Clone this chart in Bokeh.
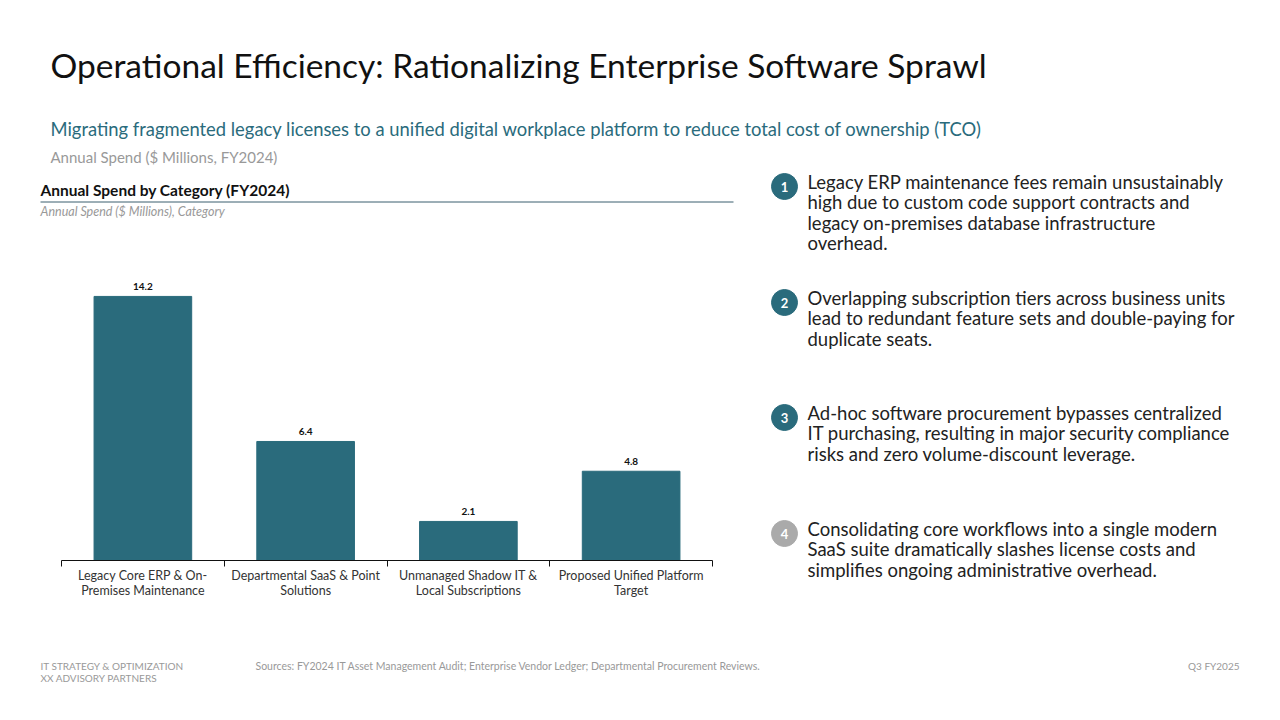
from bokeh.plotting import figure
from bokeh.layouts import column, row
from bokeh.models import Range1d, FixedTicker, ColumnDataSource
from bokeh.core.properties import value
from bokeh.embed import file_html
from bokeh.resources import INLINE

# ---- data -------------------------------------------------------------
categories = [
    "Legacy Core ERP & On-\nPremises Maintenance",
    "Departmental SaaS & Point\nSolutions",
    "Unmanaged Shadow IT &\nLocal Subscriptions",
    "Proposed Unified Platform\nTarget",
]
spend = [14.2, 6.4, 2.1, 4.8]

bullet_numbers = ["1", "2", "3", "4"]
bullet_lines = [
    ["Legacy ERP maintenance fees remain unsustainably",
     "high due to custom code support contracts and",
     "legacy on-premises database infrastructure",
     "overhead."],
    ["Overlapping subscription tiers across business units",
     "lead to redundant feature sets and double-paying for",
     "duplicate seats."],
    ["Ad-hoc software procurement bypasses centralized",
     "IT purchasing, resulting in major security compliance",
     "risks and zero volume-discount leverage."],
    ["Consolidating core workflows into a single modern",
     "SaaS suite dramatically slashes license costs and",
     "simplifies ongoing administrative overhead."],
]
bullet_colors = ["#2a6b7c", "#2a6b7c", "#2a6b7c", "#aaaaaa"]

TEAL = "#2a6b7c"
FONT = value("Lato")


def canvas(w, h, x0, y0):
    """Blank figure whose coordinates are page pixels (y grows downward)."""
    f = figure(width=w, height=h, x_range=Range1d(x0, x0 + w),
               y_range=Range1d(y0 + h, y0), output_backend="svg",
               toolbar_location=None, x_axis_type=None, y_axis_type=None,
               min_border=0, outline_line_color=None)
    f.grid.visible = False
    f.frame_align = False
    return f


def txt(f, x, y, s, size, color, style="normal", align="left", baseline="middle"):
    f.text(x=[x], y=[y], text=[s], text_font=FONT, text_font_size=f"{size}px",
           text_color=color, text_font_style=style, text_align=align,
           text_baseline=baseline)


# ---- page header --------------------------------------------------------
head = canvas(1280, 170, 0, 0)
txt(head, 50, 64, "Operational Efficiency: Rationalizing Enterprise Software Sprawl", 33.5, "#111111")
txt(head, 50, 128, "Migrating fragmented legacy licenses to a unified digital workplace platform "
    "to reduce total cost of ownership (TCO)", 18.4, TEAL)
txt(head, 50, 156, "Annual Spend ($ Millions, FY2024)", 15, "#999999")

# ---- chart heading -------------------------------------------------------
chead = canvas(760, 50, 0, 170)
txt(chead, 40, 189, "Annual Spend by Category (FY2024)", 15.5, "#111111", style="bold")
chead.segment(x0=[40], y0=[201.5], x1=[733], y1=[201.5], line_color="#3a5f6e", line_width=1)
txt(chead, 40, 211, "Annual Spend ($ Millions), Category", 12.5, "#999999", style="italic")

# ---- bar chart ------------------------------------------------------------
xs = [i + 0.5 for i in range(len(categories))]
src = ColumnDataSource(dict(x=xs, top=spend, label=[f"{v:.1f}" for v in spend]))

chart = figure(width=760, height=410, x_range=Range1d(0, len(categories)),
               y_range=Range1d(0, 16.67), output_backend="svg",
               toolbar_location=None, y_axis_type=None,
               min_border_left=61, min_border_right=48,
               min_border_top=30, min_border_bottom=70,
               outline_line_color=None)
chart.grid.visible = False
chart.frame_align = False
chart.vbar(x="x", top="top", width=0.6, source=src, color=TEAL)
chart.text(x="x", y="top", text="label", source=src, y_offset=-6,
           text_align="center", text_baseline="bottom", text_font=FONT,
           text_font_size="10px", text_font_style="bold", text_color="#111111")

ax = chart.xaxis[0]
ax.ticker = FixedTicker(ticks=xs, minor_ticks=list(range(len(categories) + 1)))
ax.major_label_overrides = {x: c for x, c in zip(xs, categories)}
ax.major_tick_line_color = None
ax.minor_tick_in = 0
ax.minor_tick_out = 6
ax.minor_tick_line_color = "#111111"
ax.axis_line_color = "#111111"
ax.major_label_standoff = 1
ax.major_label_text_font = "Lato"
ax.major_label_text_font_size = "12.5px"
ax.major_label_text_line_height = 1.05
ax.major_label_text_color = "#333333"

# ---- key takeaways ---------------------------------------------------------
bul = canvas(520, 460, 760, 170)
first_line = [181, 297, 412, 528]
for num, lines, col, y0 in zip(bullet_numbers, bullet_lines, bullet_colors, first_line):
    bul.scatter(x=[784], y=[y0 + 5], size=26, marker="circle", color=col)
    txt(bul, 784, y0 + 5.5, num, 13, "#ffffff", style="bold", align="center")
    for k, s in enumerate(lines):
        txt(bul, 807, y0 + k * 20.6, s, 18.5, "#222222")

# ---- footer ----------------------------------------------------------------
foot = canvas(1280, 90, 0, 630)
txt(foot, 40, 665, "IT STRATEGY & OPTIMIZATION", 10, "#999999")
txt(foot, 40, 677, "XX ADVISORY PARTNERS", 10, "#999999")
txt(foot, 255, 665, "Sources: FY2024 IT Asset Management Audit; Enterprise Vendor Ledger; "
    "Departmental Procurement Reviews.", 10.5, "#999999")
txt(foot, 1239, 665, "Q3 FY2025", 10, "#999999", align="right")

page = column(head, row(column(chead, chart, spacing=0), bul, spacing=0), foot, spacing=0)

open("out.html", "w").write(file_html(page, INLINE))
